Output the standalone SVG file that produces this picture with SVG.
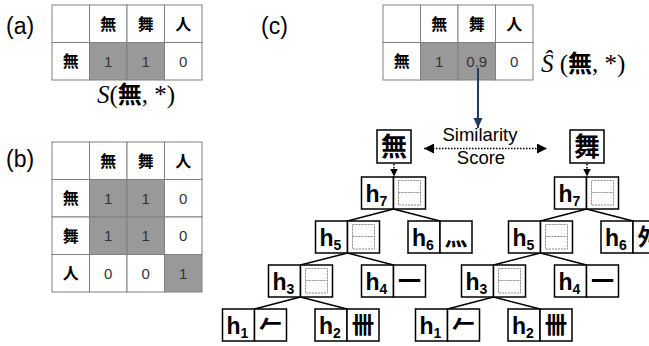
<svg xmlns="http://www.w3.org/2000/svg" width="649" height="346" viewBox="0 0 649 346">
<defs>
<style>
.bg{fill:#ffffff}
.cell{fill:#ffffff;stroke:#808080;stroke-width:1}
.sh{fill:#999999;stroke:#808080;stroke-width:1}
.hd{font-family:"Noto Sans CJK JP","Noto Sans CJK SC",sans-serif;font-size:16px;font-weight:bold;fill:#000;text-anchor:middle}
.num{font-family:"Liberation Sans",Arial,sans-serif;font-size:15px;fill:#333333;text-anchor:middle}
.lbl{font-family:"Liberation Sans",Arial,sans-serif;font-size:23px;fill:#000}
.fx{font-family:"Liberation Serif","Noto Sans CJK JP",serif;font-size:25px;fill:#000}
.it{font-style:italic}
.cj{font-family:"Noto Sans CJK JP","Noto Sans CJK SC",sans-serif;font-weight:bold;font-size:24px}
.box{fill:#ffffff;stroke:#000;stroke-width:1.5}
.ht{font-family:"Liberation Sans",Arial,sans-serif;font-weight:bold;font-size:23px;fill:#000}
.sub{font-size:14px}
.gl{font-family:"Noto Sans CJK JP","Noto Sans CJK TC","Noto Sans CJK SC",sans-serif;font-weight:bold;font-size:23px;fill:#000;text-anchor:middle}
.root{font-family:"Noto Sans CJK JP","Noto Sans CJK SC",sans-serif;font-weight:bold;font-size:26px;fill:#000;text-anchor:middle}
.ph{fill:none;stroke:#888888;stroke-width:1;stroke-dasharray:2,1}
.edge{stroke:#000;stroke-width:1.5;fill:none}
.dot{stroke:#000;stroke-width:1.5;stroke-dasharray:1.5,1.5;fill:none}
.sim{font-family:"Liberation Sans",Arial,sans-serif;font-size:18.5px;fill:#000;text-anchor:middle}
</style>
<marker id="ah" markerWidth="10" markerHeight="10" refX="10" refY="5" orient="auto-start-reverse" markerUnits="userSpaceOnUse"><path d="M0,0 L10,5 L0,10 z" fill="#000"/></marker>
<marker id="ahs" markerWidth="8" markerHeight="8" refX="8" refY="4" orient="auto" markerUnits="userSpaceOnUse"><path d="M0,0 L8,4 L0,8 z" fill="#000"/></marker>
<marker id="ahn" markerWidth="10" markerHeight="10" refX="10" refY="5" orient="auto" markerUnits="userSpaceOnUse"><path d="M0,0.5 L10,5 L0,9.5 z" fill="#1f3864"/></marker>
</defs>
<rect class="bg" x="0" y="0" width="649" height="346"/>

<!-- labels -->
<text class="lbl" x="6" y="34">(a)</text>
<text class="lbl" x="6" y="167">(b)</text>
<text class="lbl" x="261" y="34">(c)</text>

<!-- table a -->
<g id="table-a">
<rect class="cell" x="52" y="5" width="37.5" height="37.5"/>
<rect class="cell" x="89.5" y="5" width="37.5" height="37.5"/>
<rect class="cell" x="127" y="5" width="37.5" height="37.5"/>
<rect class="cell" x="164.5" y="5" width="37.5" height="37.5"/>
<rect class="cell" x="52" y="42.5" width="37.5" height="37.5"/>
<rect class="sh" x="89.5" y="42.5" width="37.5" height="37.5"/>
<rect class="sh" x="127" y="42.5" width="37.5" height="37.5"/>
<rect class="cell" x="164.5" y="42.5" width="37.5" height="37.5"/>
<text class="hd" x="108.25" y="29.5">無</text>
<text class="hd" x="145.75" y="29.5">舞</text>
<text class="hd" x="183.25" y="29.5">人</text>
<text class="hd" x="70.75" y="67">無</text>
<text class="num" x="108.25" y="66.5">1</text>
<text class="num" x="145.75" y="66.5">1</text>
<text class="num" x="183.25" y="66.5">0</text>
<text class="fx" x="97" y="102.5"><tspan class="it">S</tspan>(<tspan class="cj">無</tspan>, *)</text>
</g>

<!-- table b -->
<g id="table-b">
<rect class="cell" x="52" y="142" width="37.5" height="37.5"/>
<rect class="cell" x="89.5" y="142" width="37.5" height="37.5"/>
<rect class="cell" x="127" y="142" width="37.5" height="37.5"/>
<rect class="cell" x="164.5" y="142" width="37.5" height="37.5"/>
<rect class="cell" x="52" y="179.5" width="37.5" height="37.5"/>
<rect class="sh" x="89.5" y="179.5" width="37.5" height="37.5"/>
<rect class="sh" x="127" y="179.5" width="37.5" height="37.5"/>
<rect class="cell" x="164.5" y="179.5" width="37.5" height="37.5"/>
<rect class="cell" x="52" y="217" width="37.5" height="37.5"/>
<rect class="sh" x="89.5" y="217" width="37.5" height="37.5"/>
<rect class="sh" x="127" y="217" width="37.5" height="37.5"/>
<rect class="cell" x="164.5" y="217" width="37.5" height="37.5"/>
<rect class="cell" x="52" y="254.5" width="37.5" height="37.5"/>
<rect class="cell" x="89.5" y="254.5" width="37.5" height="37.5"/>
<rect class="cell" x="127" y="254.5" width="37.5" height="37.5"/>
<rect class="sh" x="164.5" y="254.5" width="37.5" height="37.5"/>
<text class="hd" x="108.25" y="166.5">無</text>
<text class="hd" x="145.75" y="166.5">舞</text>
<text class="hd" x="183.25" y="166.5">人</text>
<text class="hd" x="70.75" y="204">無</text>
<text class="hd" x="70.75" y="241.5">舞</text>
<text class="hd" x="70.75" y="279">人</text>
<text class="num" x="108.25" y="203.5">1</text>
<text class="num" x="145.75" y="203.5">1</text>
<text class="num" x="183.25" y="203.5">0</text>
<text class="num" x="108.25" y="241">1</text>
<text class="num" x="145.75" y="241">1</text>
<text class="num" x="183.25" y="241">0</text>
<text class="num" x="108.25" y="278.5">0</text>
<text class="num" x="145.75" y="278.5">0</text>
<text class="num" x="183.25" y="278.5">1</text>
</g>

<!-- table c -->
<g id="table-c">
<rect class="cell" x="383" y="5" width="37.5" height="37.5"/>
<rect class="cell" x="420.5" y="5" width="37.5" height="37.5"/>
<rect class="cell" x="458" y="5" width="37.5" height="37.5"/>
<rect class="cell" x="495.5" y="5" width="37.5" height="37.5"/>
<rect class="cell" x="383" y="42.5" width="37.5" height="37.5"/>
<rect class="sh" x="420.5" y="42.5" width="37.5" height="37.5"/>
<rect class="sh" x="458" y="42.5" width="37.5" height="37.5"/>
<rect class="cell" x="495.5" y="42.5" width="37.5" height="37.5"/>
<text class="hd" x="439.25" y="29.5">無</text>
<text class="hd" x="476.75" y="29.5">舞</text>
<text class="hd" x="514.25" y="29.5">人</text>
<text class="hd" x="401.75" y="67">無</text>
<text class="num" x="439.25" y="66.5">1</text>
<text class="num" x="476.75" y="66.5">0.9</text>
<text class="num" x="514.25" y="66.5">0</text>
<text class="fx" x="541" y="72"><tspan class="it">Ŝ</tspan> (<tspan class="cj">無</tspan>, *)</text>
</g>

<!-- similarity -->
<g id="similarity">
<text class="sim" x="480" y="141">Similarity</text>
<text class="sim" x="481" y="164">Score</text>
</g>

<!-- connectors -->
<g id="connectors">
<line x1="478" y1="68" x2="478" y2="128" stroke="#1f3864" stroke-width="2" marker-end="url(#ahn)"/>
<line class="dot" x1="424" y1="148.5" x2="547" y2="148.5" stroke-width="2" marker-start="url(#ah)" marker-end="url(#ah)"/>
<line class="dot" x1="394" y1="164" x2="394" y2="176.5" marker-end="url(#ahs)"/>
<line class="dot" x1="587" y1="164" x2="587" y2="176.5" marker-end="url(#ahs)"/>
<line class="edge" x1="393.5" y1="209" x2="347.5" y2="221"/>
<line class="edge" x1="393.5" y1="209" x2="440" y2="221"/>
<line class="edge" x1="347.5" y1="253" x2="300.5" y2="265"/>
<line class="edge" x1="347.5" y1="253" x2="393.5" y2="265"/>
<line class="edge" x1="300.5" y1="297" x2="254.5" y2="309"/>
<line class="edge" x1="300.5" y1="297" x2="347" y2="309"/>
<line class="edge" x1="586.5" y1="209" x2="540.5" y2="221"/>
<line class="edge" x1="586.5" y1="209" x2="633" y2="221"/>
<line class="edge" x1="540.5" y1="253" x2="493.5" y2="265"/>
<line class="edge" x1="540.5" y1="253" x2="586.5" y2="265"/>
<line class="edge" x1="493.5" y1="297" x2="447.5" y2="309"/>
<line class="edge" x1="493.5" y1="297" x2="540" y2="309"/>
</g>

<!-- left tree nodes -->
<g id="L-root">
<rect class="box" x="377" y="130" width="34" height="33"/>
<text class="root" x="394" y="156">無</text>
</g>
<g id="L-h7">
<rect class="box" x="361.5" y="177" width="32" height="32"/>
<rect class="box" x="393.5" y="177" width="32" height="32"/>
<text class="ht" x="365.5" y="202">h<tspan class="sub" dy="3.5">7</tspan></text>
<rect class="ph" x="398.5" y="180.5" width="22" height="24.5"/>
<line class="ph" x1="398.5" y1="192.5" x2="420.5" y2="192.5"/>
</g>
<g id="L-h5">
<rect class="box" x="315.5" y="221" width="32" height="32"/>
<rect class="box" x="347.5" y="221" width="32" height="32"/>
<text class="ht" x="319.5" y="246">h<tspan class="sub" dy="3.5">5</tspan></text>
<rect class="ph" x="352.5" y="224.5" width="22" height="24.5"/>
<line class="ph" x1="352.5" y1="236.5" x2="374.5" y2="236.5"/>
</g>
<g id="L-h6">
<rect class="box" x="408" y="221" width="32" height="32"/>
<rect class="box" x="440" y="221" width="32" height="32"/>
<text class="ht" x="412" y="246">h<tspan class="sub" dy="3.5">6</tspan></text>
<text class="gl" x="456" y="245">灬</text>
</g>
<g id="L-h3">
<rect class="box" x="268.5" y="265" width="32" height="32"/>
<rect class="box" x="300.5" y="265" width="32" height="32"/>
<text class="ht" x="272.5" y="290">h<tspan class="sub" dy="3.5">3</tspan></text>
<rect class="ph" x="305.5" y="268.5" width="22" height="24.5"/>
<line class="ph" x1="305.5" y1="280.5" x2="327.5" y2="280.5"/>
</g>
<g id="L-h4">
<rect class="box" x="361.5" y="265" width="32" height="32"/>
<rect class="box" x="393.5" y="265" width="32" height="32"/>
<text class="ht" x="365.5" y="290">h<tspan class="sub" dy="3.5">4</tspan></text>
<text class="gl" x="409.5" y="289">一</text>
</g>
<g id="L-h1">
<rect class="box" x="222.5" y="309" width="32" height="32"/>
<rect class="box" x="254.5" y="309" width="32" height="32"/>
<text class="ht" x="226.5" y="334">h<tspan class="sub" dy="3.5">1</tspan></text>
<text class="gl" x="270.5" y="333">𠂉</text>
</g>
<g id="L-h2">
<rect class="box" x="315" y="309" width="32" height="32"/>
<rect class="box" x="347" y="309" width="32" height="32"/>
<text class="ht" x="319" y="334">h<tspan class="sub" dy="3.5">2</tspan></text>
<text class="gl" x="363" y="333">卌</text>
</g>

<!-- right tree nodes -->
<g id="R-root">
<rect class="box" x="570" y="130" width="34" height="33"/>
<text class="root" x="587" y="156">舞</text>
</g>
<g id="R-h7">
<rect class="box" x="554.5" y="177" width="32" height="32"/>
<rect class="box" x="586.5" y="177" width="32" height="32"/>
<text class="ht" x="558.5" y="202">h<tspan class="sub" dy="3.5">7</tspan></text>
<rect class="ph" x="591.5" y="180.5" width="22" height="24.5"/>
<line class="ph" x1="591.5" y1="192.5" x2="613.5" y2="192.5"/>
</g>
<g id="R-h5">
<rect class="box" x="508.5" y="221" width="32" height="32"/>
<rect class="box" x="540.5" y="221" width="32" height="32"/>
<text class="ht" x="512.5" y="246">h<tspan class="sub" dy="3.5">5</tspan></text>
<rect class="ph" x="545.5" y="224.5" width="22" height="24.5"/>
<line class="ph" x1="545.5" y1="236.5" x2="567.5" y2="236.5"/>
</g>
<g id="R-h6">
<rect class="box" x="601" y="221" width="32" height="32"/>
<rect class="box" x="633" y="221" width="32" height="32"/>
<text class="ht" x="605" y="246">h<tspan class="sub" dy="3.5">6</tspan></text>
<text class="gl" x="649" y="245">舛</text>
</g>
<g id="R-h3">
<rect class="box" x="461.5" y="265" width="32" height="32"/>
<rect class="box" x="493.5" y="265" width="32" height="32"/>
<text class="ht" x="465.5" y="290">h<tspan class="sub" dy="3.5">3</tspan></text>
<rect class="ph" x="498.5" y="268.5" width="22" height="24.5"/>
<line class="ph" x1="498.5" y1="280.5" x2="520.5" y2="280.5"/>
</g>
<g id="R-h4">
<rect class="box" x="554.5" y="265" width="32" height="32"/>
<rect class="box" x="586.5" y="265" width="32" height="32"/>
<text class="ht" x="558.5" y="290">h<tspan class="sub" dy="3.5">4</tspan></text>
<text class="gl" x="602.5" y="289">一</text>
</g>
<g id="R-h1">
<rect class="box" x="415.5" y="309" width="32" height="32"/>
<rect class="box" x="447.5" y="309" width="32" height="32"/>
<text class="ht" x="419.5" y="334">h<tspan class="sub" dy="3.5">1</tspan></text>
<text class="gl" x="463.5" y="333">𠂉</text>
</g>
<g id="R-h2">
<rect class="box" x="508" y="309" width="32" height="32"/>
<rect class="box" x="540" y="309" width="32" height="32"/>
<text class="ht" x="512" y="334">h<tspan class="sub" dy="3.5">2</tspan></text>
<text class="gl" x="556" y="333">卌</text>
</g>
</svg>
